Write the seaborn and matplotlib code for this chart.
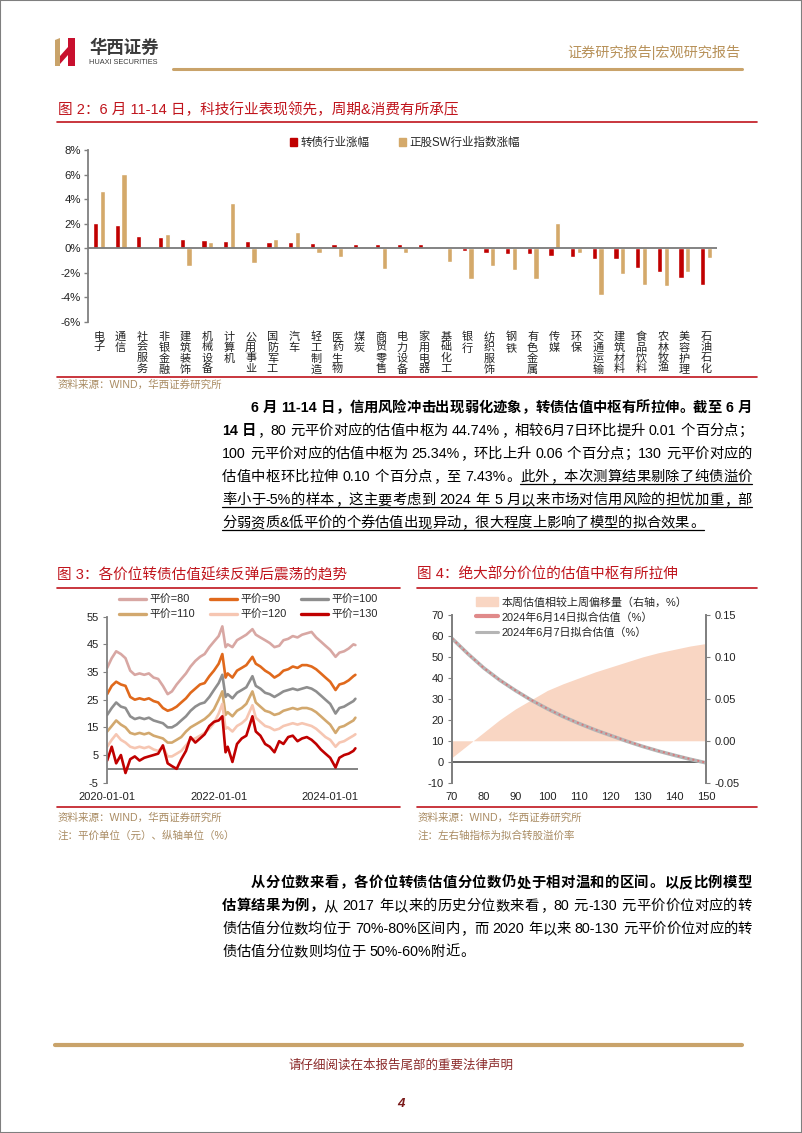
import re
import numpy as np
import pandas as pd
import matplotlib
matplotlib.use('Agg')
import matplotlib.pyplot as plt
from matplotlib.patches import Patch, Rectangle, Polygon
from matplotlib.lines import Line2D
import seaborn as sns

sns.set_style('white')
FONTS = ['Liberation Sans', 'Noto Sans CJK SC', 'DejaVu Sans']
plt.rcParams['font.family'] = FONTS
plt.rcParams['axes.unicode_minus'] = False

# ---------------- data ----------------
industries = ['电子', '通信', '社会服务', '非银金融', '建筑装饰', '机械设备', '计算机', '公用事业',
              '国防军工', '汽车', '轻工制造', '医药生物', '煤炭', '商贸零售', '电力设备', '家用电器',
              '基础化工', '银行', '纺织服饰', '钢铁', '有色金属', '传媒', '环保', '交通运输',
              '建筑材料', '食品饮料', '农林牧渔', '美容护理', '石油石化']
cb_change = [2.07, 1.91, 1.01, 0.93, 0.77, 0.68, 0.60, 0.60, 0.52, 0.52, 0.41, 0.33, 0.33, 0.33,
             0.33, 0.33, -0.02, -0.22, -0.38, -0.49, -0.49, -0.66, -0.74, -0.90, -0.90, -1.64,
             -1.89, -2.38, -2.95]
sw_change = [4.70, 6.01, -0.08, 1.17, -1.42, 0.52, 3.66, -1.17, 0.74, 1.31, -0.41, -0.71, 0.03,
             -1.69, -0.41, -0.03, -1.15, -2.51, -1.48, -1.80, -2.51, 2.08, -0.41, -3.77, -2.13,
             -2.95, -3.03, -1.89, -0.79]
bar_series = ['转债行业涨幅', '正股SW行业指数涨幅']
bar_yticks = [-6, -4, -2, 0, 2, 4, 6, 8]

ts_dates = ['2020-01-02', '2020-02-01', '2020-03-01', '2020-04-01', '2020-05-01', '2020-06-01',
            '2020-07-01', '2020-08-01', '2020-09-01', '2020-10-01', '2020-11-01', '2020-12-01',
            '2021-01-01', '2021-02-01', '2021-03-01', '2021-04-01', '2021-05-01', '2021-06-01',
            '2021-07-01', '2021-08-01', '2021-09-01', '2021-10-01', '2021-11-01', '2021-12-01',
            '2022-01-01', '2022-01-25', '2022-02-15', '2022-03-01', '2022-04-01', '2022-05-01',
            '2022-06-01', '2022-07-01', '2022-08-10', '2022-09-01', '2022-10-01', '2022-11-01',
            '2022-12-01', '2023-01-01', '2023-02-01', '2023-03-01', '2023-04-01', '2023-05-01',
            '2023-06-01', '2023-07-01', '2023-08-01', '2023-09-01', '2023-10-01', '2023-11-01',
            '2023-12-01', '2024-01-01', '2024-02-05', '2024-03-01', '2024-04-01', '2024-05-01',
            '2024-06-01', '2024-06-14']
parity80 = [36.5, 40.0, 42.5, 41.5, 40.0, 35.5, 34.0, 34.5, 34.0, 34.5, 33.0, 32.5,
            30.0, 27.0, 28.0, 30.5, 32.5, 34.5, 37.0, 39.0, 40.5, 41.5, 44.0, 46.0,
            48.0, 51.5, 44.0, 45.0, 44.0, 46.5, 47.5, 48.5, 50.5, 48.5, 47.5, 46.5, 45.5,
            44.0, 44.5, 46.5, 47.0, 48.0, 47.5, 48.5, 49.0, 49.5, 47.5, 46.0, 44.5,
            43.0, 40.5, 42.0, 42.5, 43.5, 45.0, 44.74]
parity90 = [27.0, 30.0, 31.5, 30.5, 30.0, 26.0, 25.0, 25.5, 25.0, 25.5, 24.5, 24.0,
            22.0, 21.0, 21.5, 22.5, 24.0, 25.5, 27.5, 29.0, 30.5, 31.0, 33.5, 35.5,
            38.0, 41.5, 33.0, 34.5, 33.0, 35.5, 36.5, 37.5, 40.5, 38.0, 37.0, 35.5, 34.5,
            33.0, 34.0, 35.5, 36.0, 37.0, 36.5, 37.5, 37.5, 37.0, 36.0, 34.5, 33.0,
            31.5, 28.5, 30.5, 31.0, 32.0, 33.5, 34.0]
parity100 = [19.5, 22.0, 24.0, 22.5, 22.0, 19.0, 18.0, 18.5, 18.0, 18.5, 17.5, 17.0,
             16.5, 15.0, 15.0, 16.0, 17.5, 19.0, 21.0, 22.5, 23.5, 24.0, 26.0, 28.5,
             31.0, 34.0, 26.0, 27.0, 25.5, 27.5, 28.5, 29.5, 33.5, 30.0, 29.0, 27.5, 27.0,
             26.0, 27.0, 28.0, 28.5, 29.0, 28.5, 29.0, 29.5, 29.0, 28.0, 26.5, 25.0,
             23.5, 20.0, 22.0, 22.5, 23.5, 24.5, 25.34]
parity110 = [13.5, 15.5, 17.5, 16.0, 15.0, 13.0, 12.5, 13.0, 12.5, 13.0, 12.0, 11.5,
             11.0, 9.5, 9.5, 10.5, 11.5, 13.5, 15.0, 16.0, 17.0, 18.0, 19.5, 21.5,
             25.0, 28.0, 19.5, 20.5, 19.0, 21.0, 22.0, 23.5, 28.0, 24.0, 22.5, 21.0, 20.5,
             19.5, 20.0, 21.0, 21.5, 22.0, 21.5, 22.0, 22.0, 21.5, 20.5, 19.0, 17.5,
             16.0, 13.0, 15.0, 15.5, 16.5, 17.5, 18.5]
parity120 = [8.0, 10.5, 12.5, 10.5, 9.5, 8.0, 7.5, 8.0, 7.5, 8.0, 7.0, 6.5,
             8.0, 4.5, 4.5, 5.5, 6.5, 8.5, 10.5, 11.0, 12.0, 13.0, 14.5, 16.5,
             20.0, 23.5, 14.5, 15.0, 13.5, 15.5, 16.5, 18.0, 23.0, 18.5, 17.0, 15.5, 15.0,
             14.0, 14.5, 15.5, 16.0, 16.5, 16.0, 16.5, 16.0, 15.5, 14.5, 13.0, 11.5,
             10.5, 8.0, 9.5, 10.0, 11.0, 12.0, 12.5]
parity130 = [3.0, 8.0, 2.0, 5.0, -1.5, 3.5, 4.5, 3.0, 4.0, 4.5, 5.0, 5.5,
             8.5, 2.0, 1.0, 0.0, 3.5, 6.5, 11.5, 9.5, 11.0, 12.5, 15.5, 17.0,
             17.5, 19.0, 6.0, 8.0, 2.5, 9.0, 11.0, 12.0, 19.0, 13.5, 12.0, 9.0, 8.0,
             6.0, 10.0, 9.0, 11.5, 12.0, 10.0, 11.0, 11.5, 10.5, 9.0, 7.0, 5.5,
             4.0, 0.5, 4.0, 5.0, 5.5, 6.5, 7.43]
parity_labels = ['平价=80', '平价=90', '平价=100', '平价=110', '平价=120', '平价=130']
ts_yticks = [-5, 5, 15, 25, 35, 45, 55]
ts_xticks = ['2020-01-01', '2022-01-01', '2024-01-01']

fit_parity = [70, 75, 80, 85, 90, 95, 100, 105, 110, 115, 120, 125, 130, 135, 140, 145, 150]
fit_0614 = [58.80, 51.50, 44.74, 39.00, 34.00, 29.40, 25.34, 21.60, 18.30, 15.30, 12.60, 9.90,
            7.43, 5.20, 3.20, 1.30, -0.40]
fit_0607 = [58.82, 51.51, 44.73, 38.98, 33.96, 29.35, 25.28, 21.53, 18.23, 15.22, 12.51, 9.81,
            7.33, 5.10, 3.09, 1.19, -0.52]
fit_shift = [-0.020, -0.005, 0.010, 0.025, 0.038, 0.049, 0.060, 0.068, 0.075, 0.082, 0.088,
             0.094, 0.100, 0.105, 0.109, 0.113, 0.116]
fit_labels = ['本周估值相较上周偏移量（右轴，%）', '2024年6月14日拟合估值（%）', '2024年6月7日拟合估值（%）']

# ---------------- colours ----------------
RED = '#C00000'
TAN = '#D4A96A'
TITLE_RED = '#C0141C'
GOLD = '#C9A36A'
SRC = '#A98B62'
GRAY = '#808080'
PAR_COLORS = ['#D8A7A3', '#E0691C', '#8E8E8E', '#D2A86E', '#F6C6B2', '#C00000']

# ---------------- figure / helpers ----------------
W, H = 802, 1133
fig = plt.figure(figsize=(W / 100, H / 100), dpi=100)
fig.patch.set_facecolor('white')


def fx(x):
    return x / W


def fy(y):
    return 1 - y / H


def rect(l, t, r, b):
    return [l / W, 1 - b / H, (r - l) / W, (b - t) / H]


def hline(x0, x1, y, color, lw):
    fig.add_artist(Line2D([fx(x0), fx(x1)], [fy(y), fy(y)], color=color, lw=lw,
                          transform=fig.transFigure))


def ftext(x, y, s, **kw):
    kw.setdefault('va', 'center')
    return fig.text(fx(x), fy(y), s, **kw)


renderer = fig.canvas.get_renderer()
TOKRE = re.compile(r'[A-Za-z0-9.%\-&]+|\s+|.')


def is_wide(ch):
    return ord(ch) > 0x2E80


def measure(tok, fs, weight):
    t = fig.text(0, 0, tok, fontsize=fs, fontweight=weight)
    w = t.get_window_extent(renderer).width
    t.remove()
    return w


def draw_line(runs, x0, x1, yc, fs, justify=True):
    em = fs * 100 / 72
    items = []
    for text, bold, ul in runs:
        for tok in TOKRE.findall(text):
            if tok.isspace():
                w = 0.28 * em * len(tok)
            elif len(tok) == 1 and is_wide(tok):
                w = em
            else:
                w = measure(tok, fs, 'bold' if bold else 'normal')
            items.append((tok, w, bold, ul))
    nat = sum(it[1] for it in items)
    gap = (x1 - x0 - nat) / (len(items) - 1) if (justify and len(items) > 1) else 0.0
    x = x0
    yb = yc + 0.36 * em
    ul_start, ul_end = None, None
    for tok, w, bold, ul in items:
        weight = 'bold' if bold else 'normal'
        if not tok.isspace():
            if len(tok) == 1 and is_wide(tok):
                if tok in '，。、；：！？':
                    fig.text(fx(x + 0.05 * em), fy(yb), tok, ha='left', va='baseline',
                             fontsize=fs, fontweight=weight, color='black')
                else:
                    fig.text(fx(x + w / 2), fy(yb), tok, ha='center', va='baseline',
                             fontsize=fs, fontweight=weight, color='black')
            else:
                fig.text(fx(x), fy(yb), tok, ha='left', va='baseline',
                         fontsize=fs, fontweight=weight, color='black')
        if ul:
            if ul_start is None:
                ul_start = x
            ul_end = x + w
        x += w + gap
    if ul_start is not None:
        hline(ul_start, ul_end, yb + 3, 'black', 0.9)


# ---------------- page furniture ----------------
fig.add_artist(Rectangle((0, 0), 1, 1, transform=fig.transFigure, fill=False,
                         edgecolor='#7F7F7F', lw=1.5))
# logo
fig.add_artist(Polygon([[fx(55), fy(40)], [fx(60), fy(38)], [fx(60), fy(66)], [fx(55), fy(66)]],
                       closed=True, transform=fig.transFigure, color='#C9A36A', lw=0))
fig.add_artist(Polygon([[fx(68), fy(38)], [fx(75), fy(38)], [fx(75), fy(66)], [fx(68), fy(66)]],
                       closed=True, transform=fig.transFigure, color='#C8102E', lw=0))
fig.add_artist(Polygon([[fx(60), fy(56)], [fx(68), fy(47)], [fx(68), fy(55)], [fx(60), fy(64)]],
                       closed=True, transform=fig.transFigure, color='#C8102E', lw=0))
ftext(89, 47, '华西证券', fontsize=12.5, fontweight='bold', color='#3A3A3A')
ftext(89, 62, 'HUAXI SECURITIES', fontsize=5.3, color='#3A3A3A')
ftext(740, 53, '证券研究报告|宏观研究报告', fontsize=10.2, color='#B8925A', ha='right')
hline(173, 742, 69, GOLD, 2.2)

# footer
hline(55, 742, 1045, GOLD, 3)
ftext(401, 1066, '请仔细阅读在本报告尾部的重要法律声明', fontsize=9, color='#8B2A2A', ha='center')
ftext(401, 1104, '4', fontsize=9.5, color='#7A1A1A', ha='center', fontweight='bold', fontstyle='italic')

# ---------------- Figure 2: bar chart ----------------
ftext(58, 110, '图 2：6 月 11-14 日，科技行业表现领先，周期&消费有所承压', fontsize=10.5, color=TITLE_RED)
hline(57, 757, 122, TITLE_RED, 1.2)
hline(57, 757, 377, TITLE_RED, 1.2)
ftext(58, 385, '资料来源：WIND，华西证券研究所', fontsize=7.6, color=SRC)

ax2 = fig.add_axes(rect(88, 150, 717, 322))
df2 = pd.DataFrame({
    'industry': industries * 2,
    'change': cb_change + sw_change,
    'series': [bar_series[0]] * len(industries) + [bar_series[1]] * len(industries),
})
sns.barplot(data=df2, x='industry', y='change', hue='series', hue_order=bar_series,
            palette=[RED, TAN], width=0.62, gap=0.22, saturation=1, errorbar=None,
            legend=False, ax=ax2)
ax2.axhline(0, color='#7A7A7A', lw=1.3, zorder=3)
ax2.set_ylim(-6, 8)
ax2.set_xlim(-0.5, len(industries) - 0.5)
ax2.set_yticks(bar_yticks)
ax2.set_yticklabels([f'{v}%' for v in bar_yticks], fontsize=8.2, color='#222222')
ax2.set_xticks(range(len(industries)))
ax2.set_xticklabels(['\n'.join(c) for c in industries], fontsize=8, linespacing=1.08,
                    color='#222222', va='top')
ax2.tick_params(axis='x', length=0, pad=7)
ax2.tick_params(axis='y', length=3, color=GRAY, width=1, pad=2, direction='out', left=True)
for s in ['top', 'right', 'bottom']:
    ax2.spines[s].set_visible(False)
ax2.spines['left'].set_color(GRAY)
ax2.spines['left'].set_linewidth(1.3)
ax2.set_xlabel('')
ax2.set_ylabel('')
ax2.legend([Patch(color=RED), Patch(color=TAN)], bar_series, loc='center',
           bbox_to_anchor=(fx(405), fy(143)), bbox_transform=fig.transFigure, ncol=2,
           frameon=False, fontsize=8.3, handlelength=0.6, handleheight=0.6,
           handletextpad=0.3, columnspacing=2.6)

# ---------------- Paragraph 1 ----------------
FS_P = 10.3
para1 = [
    [('6 月 11-14 日，信用风险冲击出现弱化迹象，转债估值中枢有所拉伸。截至 6 月', True, False)],
    [('14 日', True, False), ('，80 元平价对应的估值中枢为 44.74%，相较6月7日环比提升 0.01 个百分点；', False, False)],
    [('100 元平价对应的估值中枢为 25.34%，环比上升 0.06 个百分点；130 元平价对应的', False, False)],
    [('估值中枢环比拉伸 0.10 个百分点，至 7.43%。', False, False), ('此外，本次测算结果剔除了纯债溢价', False, True)],
    [('率小于-5%的样本，这主要考虑到 2024 年 5 月以来市场对信用风险的担忧加重，部', False, True)],
    [('分弱资质&低平价的个券估值出现异动，很大程度上影响了模型的拟合效果。', False, True)],
]
p1_y = [407, 430, 453, 476, 499, 522]
for i, (runs, y) in enumerate(zip(para1, p1_y)):
    x0 = 222 + (2 * FS_P * 100 / 72 if i == 0 else 0)
    draw_line(runs, x0, 752, y, FS_P, justify=(i < len(para1) - 1))

# ---------------- Figure 3: time series ----------------
ftext(57, 575, '图 3：各价位转债估值延续反弹后震荡的趋势', fontsize=10.5, color=TITLE_RED)
hline(57, 400, 588, TITLE_RED, 1.2)
hline(57, 400, 807, TITLE_RED, 1.2)
ftext(58, 818, '资料来源：WIND，华西证券研究所', fontsize=7.6, color=SRC)
ftext(58, 836, '注：平价单位（元）、纵轴单位（%）', fontsize=7.6, color=SRC)

ax3 = fig.add_axes(rect(107, 616.7, 358, 782.7))
series_vals = [parity80, parity90, parity100, parity110, parity120, parity130]
df3 = pd.concat([pd.DataFrame({'date': pd.to_datetime(ts_dates), 'value': v, 'parity': lab})
                 for v, lab in zip(series_vals, parity_labels)], ignore_index=True)
sns.lineplot(data=df3, x='date', y='value', hue='parity', hue_order=parity_labels,
             palette=PAR_COLORS, lw=1.9, legend=False, ax=ax3)
ax3.axhline(0, color='#7A7A7A', lw=1.3, zorder=0)
ax3.set_ylim(-5, 55)
ax3.set_yticks(ts_yticks)
ax3.set_yticklabels([str(v) for v in ts_yticks], fontsize=8, color='#222222')
ax3.set_xlim(pd.Timestamp('2020-01-01'), pd.Timestamp('2024-07-01'))
ax3.set_xticks([pd.Timestamp(d) for d in ts_xticks])
ax3.set_xticklabels(ts_xticks, fontsize=8, color='#222222')
ax3.tick_params(axis='x', length=0, pad=7)
ax3.tick_params(axis='y', length=3, color=GRAY, pad=3, direction='out', left=True)
for s in ['top', 'right', 'bottom']:
    ax3.spines[s].set_visible(False)
ax3.spines['left'].set_color(GRAY)
ax3.spines['left'].set_linewidth(1.3)
ax3.set_xlabel('')
ax3.set_ylabel('')
order = [0, 3, 1, 4, 2, 5]
ax3.legend([Line2D([], [], color=PAR_COLORS[i], lw=2.4) for i in order],
           [parity_labels[i] for i in order], ncol=3, loc='upper left',
           bbox_to_anchor=(fx(119), fy(595)), bbox_transform=fig.transFigure,
           frameon=False, fontsize=7.8, handlelength=2.5, handletextpad=0.35,
           columnspacing=1.3, labelspacing=0.45, borderpad=0, borderaxespad=0)

# ---------------- Figure 4: fitted curves ----------------
ftext(417, 575, '图 4：绝大部分价位的估值中枢有所拉伸', fontsize=10.5, color=TITLE_RED)
hline(417, 757, 588, TITLE_RED, 1.2)
hline(417, 757, 807, TITLE_RED, 1.2)
ftext(418, 818, '资料来源：WIND，华西证券研究所', fontsize=7.6, color=SRC)
ftext(418, 836, '注：左右轴指标为拟合转股溢价率', fontsize=7.6, color=SRC)

ax4 = fig.add_axes(rect(452, 615, 706, 782.7))
ax4r = ax4.twinx()
FILL = '#F9D6C3'
ax4r.fill_between(fit_parity, 0, fit_shift, color=FILL, lw=0)
ax4r.set_ylim(-0.05, 0.15)
ax4r.set_yticks([-0.05, 0.0, 0.05, 0.10, 0.15])
ax4r.set_yticklabels(['-0.05', '0.00', '0.05', '0.10', '0.15'], fontsize=8, color='#222222')
df4 = pd.DataFrame({'parity': fit_parity * 2, 'value': fit_0607 + fit_0614,
                    'date': ['0607'] * len(fit_parity) + ['0614'] * len(fit_parity)})
ax4.set_zorder(ax4r.get_zorder() + 1)
ax4.patch.set_visible(False)
sns.lineplot(data=df4[df4['date'] == '0607'], x='parity', y='value', color='#B5B5B5', lw=2.6,
             ax=ax4, legend=False)
sns.lineplot(data=df4[df4['date'] == '0614'], x='parity', y='value', color='#D9797B', lw=1.4,
             ls=(0, (1, 1.6)), ax=ax4, legend=False)
ax4.axhline(0, color='#595959', lw=1.3, zorder=0)
ax4.set_xlim(70, 150)
ax4.set_ylim(-10, 70)
ax4.set_xticks(range(70, 151, 10))
ax4.set_xticklabels([str(v) for v in range(70, 151, 10)], fontsize=8, color='#222222')
ax4.set_yticks(range(-10, 71, 10))
ax4.set_yticklabels([str(v) for v in range(-10, 71, 10)], fontsize=8, color='#222222')
ax4.tick_params(axis='x', length=0, pad=7)
ax4.tick_params(axis='y', length=3, color=GRAY, pad=3, direction='out')
ax4r.tick_params(axis='y', length=3, color=GRAY, pad=3, direction='out')
for a in (ax4, ax4r):
    for s in ['top', 'bottom']:
        a.spines[s].set_visible(False)
    for s in ['left', 'right']:
        a.spines[s].set_color(GRAY)
        a.spines[s].set_linewidth(1.3)
ax4.set_xlabel('')
ax4.set_ylabel('')
ax4r.set_ylabel('')
ax4.legend([Patch(color=FILL), Line2D([], [], color='#E08A8A', lw=3),
            Line2D([], [], color='#B5B5B5', lw=2.2)], fit_labels, loc='upper left',
           bbox_to_anchor=(fx(476), fy(597)), bbox_transform=fig.transFigure,
           frameon=False, fontsize=7.9, handlelength=2.0, handleheight=0.9,
           handletextpad=0.35, labelspacing=0.42, borderpad=0, borderaxespad=0)

# ---------------- Paragraph 2 ----------------
para2 = [
    [('从分位数来看，各价位转债估值分位数仍处于相对温和的区间。以反比例模型', True, False)],
    [('估算结果为例，', True, False), ('从 2017 年以来的历史分位数来看，80 元-130 元平价价位对应的转', False, False)],
    [('债估值分位数均位于 70%-80%区间内，而 2020 年以来 80-130 元平价价位对应的转', False, False)],
    [('债估值分位数则均位于 50%-60%附近。', False, False)],
]
p2_y = [882, 905, 928, 951]
for i, (runs, y) in enumerate(zip(para2, p2_y)):
    x0 = 222 + (2 * FS_P * 100 / 72 if i == 0 else 0)
    draw_line(runs, x0, 752, y, FS_P, justify=(i < len(para2) - 1))

fig.savefig('out.png', dpi=100, facecolor='white')
